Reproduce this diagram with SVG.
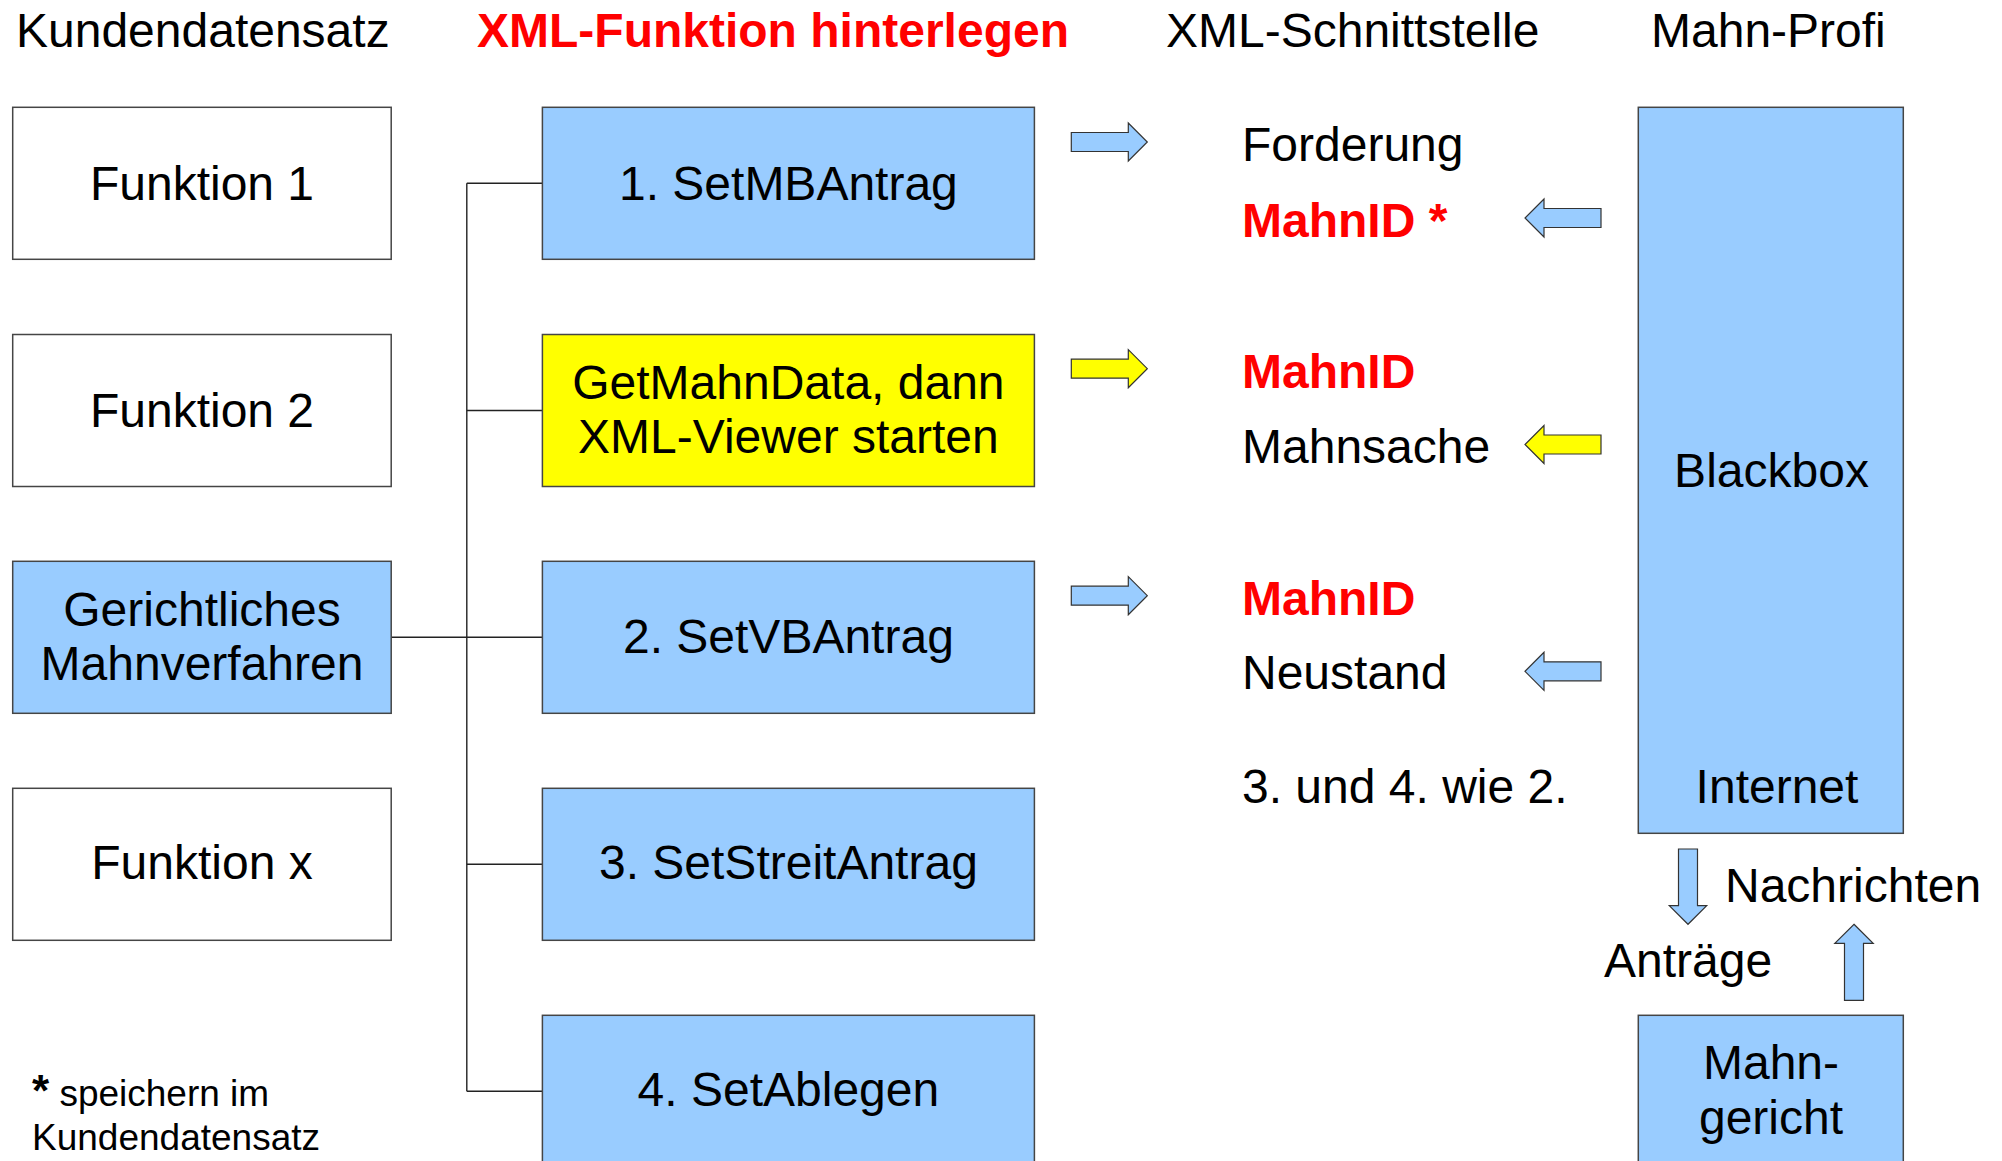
<svg xmlns="http://www.w3.org/2000/svg" xmlns:xlink="http://www.w3.org/1999/xlink" width="2002" height="1161" viewBox="0 0 2002 1161">
<style>
text{font-family:"Liberation Sans",Arial,sans-serif;font-size:48px;fill:#000}
.c{text-anchor:middle}
.red{fill:#ff0000;font-weight:bold}
.box{stroke:#454545;stroke-width:1.5}
.white{fill:#ffffff}
.blue{fill:#99ccff}
.yellow{fill:#ffff00}
.conn{stroke:#222;stroke-width:1.4;fill:none}
.arr{stroke:#333;stroke-width:1.2}
.foot{font-size:37px}
</style>
<defs>
<path id="arrR" d="M0,-9.5 H57 V-19 L76,0 L57,19 V9.5 H0 Z"/>
<path id="arrL" d="M76,-9.5 H19 V-19 L0,0 L19,19 V9.5 H76 Z"/>
</defs>
<rect width="2002" height="1161" fill="#ffffff"/>

<g id="headers">
<text x="16" y="47">Kundendatensatz</text>
<text x="477" y="47" class="red">XML-Funktion hinterlegen</text>
<text x="1166" y="47">XML-Schnittstelle</text>
<text x="1651" y="47">Mahn-Profi</text>
</g>

<g id="connectors">
<path class="conn" d="M466.8,183.3 V1091.3"/>
<path class="conn" d="M466.8,183.3 H542.4"/>
<path class="conn" d="M466.8,410.5 H542.4"/>
<path class="conn" d="M391.2,637.3 H542.4"/>
<path class="conn" d="M466.8,864.3 H542.4"/>
<path class="conn" d="M466.8,1091.3 H542.4"/>
</g>

<g id="funktion1">
<rect class="box white" x="12.7" y="107.3" width="378.5" height="152"/>
<text class="c" x="202" y="200">Funktion 1</text>
</g>
<g id="funktion2">
<rect class="box white" x="12.7" y="334.5" width="378.5" height="152"/>
<text class="c" x="202" y="426.7">Funktion 2</text>
</g>
<g id="gerichtliches">
<rect class="box blue" x="12.7" y="561.3" width="378.5" height="152"/>
<text class="c" x="202" y="626">Gerichtliches</text>
<text class="c" x="202" y="680">Mahnverfahren</text>
</g>
<g id="funktionx">
<rect class="box white" x="12.7" y="788.3" width="378.5" height="152"/>
<text class="c" x="202" y="879.3">Funktion x</text>
</g>

<g id="setmbantrag">
<rect class="box blue" x="542.4" y="107.3" width="492" height="152"/>
<text class="c" x="788.4" y="200">1. SetMBAntrag</text>
</g>
<g id="getmahndata">
<rect class="box yellow" x="542.4" y="334.5" width="492" height="152"/>
<text class="c" x="788.4" y="399">GetMahnData, dann</text>
<text class="c" x="788.4" y="453.3">XML-Viewer starten</text>
</g>
<g id="setvbantrag">
<rect class="box blue" x="542.4" y="561.3" width="492" height="152"/>
<text class="c" x="788.4" y="652.7">2. SetVBAntrag</text>
</g>
<g id="setstreitantrag">
<rect class="box blue" x="542.4" y="788.3" width="492" height="152"/>
<text class="c" x="788.4" y="879.3">3. SetStreitAntrag</text>
</g>
<g id="setablegen">
<rect class="box blue" x="542.4" y="1015.3" width="492" height="160"/>
<text class="c" x="788.4" y="1106">4. SetAblegen</text>
</g>

<g id="schnittstelle">
<text x="1242" y="161">Forderung</text>
<text x="1242" y="237.3" class="red">MahnID *</text>
<text x="1242" y="388.3" class="red">MahnID</text>
<text x="1242" y="462.7">Mahnsache</text>
<text x="1242" y="615" class="red">MahnID</text>
<text x="1242" y="689.3">Neustand</text>
<text x="1242" y="802.7">3. und 4. wie 2.</text>
</g>

<g id="arrows">
<use xlink:href="#arrR" href="#arrR" class="arr blue" transform="translate(1071.3,142)"/>
<use xlink:href="#arrR" href="#arrR" class="arr yellow" transform="translate(1071.3,368.7)"/>
<use xlink:href="#arrR" href="#arrR" class="arr blue" transform="translate(1071.3,595.7)"/>
<use xlink:href="#arrL" href="#arrL" class="arr blue" transform="translate(1525,218)"/>
<use xlink:href="#arrL" href="#arrL" class="arr yellow" transform="translate(1525,444.5)"/>
<use xlink:href="#arrL" href="#arrL" class="arr blue" transform="translate(1525,671.3)"/>
<path class="arr blue" d="M1678.5,849 V905.7 H1669.3 L1688,924.3 L1706.7,905.7 H1697.5 V849 Z"/>
<path class="arr blue" d="M1854,924.3 L1873.2,943.3 H1863.5 V1000.3 H1844.5 V943.3 H1834.8 Z"/>
</g>

<g id="blackbox">
<rect class="box blue" x="1638.3" y="107.3" width="265" height="726"/>
<text class="c" x="1771.5" y="487.3">Blackbox</text>
<text class="c" x="1777" y="803.3">Internet</text>
</g>

<g id="labels">
<text x="1725" y="901.7">Nachrichten</text>
<text x="1604" y="976.7">Anträge</text>
</g>

<g id="mahngericht">
<rect class="box blue" x="1638.3" y="1015.3" width="265" height="160"/>
<text class="c" x="1771" y="1079.3">Mahn-</text>
<text class="c" x="1771" y="1134">gericht</text>
</g>

<g id="footnote">
<text x="32" y="1106" class="foot"><tspan font-weight="bold" font-size="44">*</tspan> speichern im</text>
<text x="32" y="1150" class="foot">Kundendatensatz</text>
</g>
</svg>
